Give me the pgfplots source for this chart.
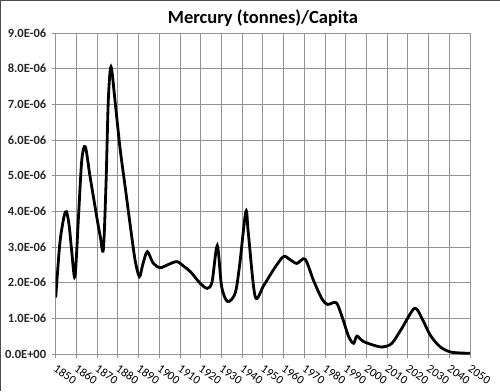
\documentclass[border=0pt]{standalone}
\usepackage{graphicx}
\usepackage{pgfplots}
\pgfplotsset{compat=1.18}
\usepackage{fontspec}
\setmainfont{Carlito}
\newcommand{\rl}[1]{\rotatebox[origin=tl]{-35}{#1}}
\begin{document}
\begin{tikzpicture}
\path[use as bounding box] (-55.7pt,-37pt) rectangle (444.3pt,354pt);
\draw[line width=1pt,black!70] (-55.2pt,-37pt) -- (-55.2pt,353.5pt) -- (444.3pt,353.5pt);
\begin{axis}[
  at={(0pt,0pt)}, anchor=south west,
  scale only axis, width=414.3pt, height=321pt,
  xmin=1850, xmax=2050, ymin=0, ymax=9,
  xtick={1850,1860,...,2050},
  xticklabels={\rl{1850},\rl{1860},\rl{1870},\rl{1880},\rl{1890},\rl{1900},\rl{1910},\rl{1920},\rl{1930},\rl{1940},\rl{1950},\rl{1960},\rl{1970},\rl{1980},\rl{1990},\rl{2000},\rl{2010},\rl{2020},\rl{2030},\rl{2040},\rl{2050}},
  ytick={0,1,...,9},
  yticklabels={0.0E+00,1.0E-06,2.0E-06,3.0E-06,4.0E-06,5.0E-06,6.0E-06,7.0E-06,8.0E-06,9.0E-06},
  grid=major,
  grid style={gray!85!white, line width=0.9pt},
  axis line style={gray!85!white, line width=0.9pt},
  tick style={gray!85!white, line width=0.9pt},
  tick align=outside, major tick length=4pt,
  xtick pos=bottom, ytick pos=left,
  y tick label style={font=\fontsize{12.5}{13}\selectfont\bfseries, color=black!85, xshift=-2pt},
  x tick label style={font=\fontsize{12}{13}\selectfont, anchor=north west, inner sep=0pt, xshift=-3pt, yshift=-6pt},
  title={Mercury (tonnes)/Capita},
  title style={font=\fontsize{18.5}{20}\selectfont\bfseries, yshift=-3pt},
]
\addplot[black, line width=2.8pt, smooth, tension=0.5] coordinates {
(1850,1.58) (1852,3.1) (1854,3.85) (1855.2,3.99) (1856.5,3.6) (1857.7,2.9) (1859.3,2.17)
(1861,3.85) (1862.6,5.44) (1864.3,5.81) (1866.6,4.97) (1869.8,3.85) (1871.5,3.3) (1873,2.93)
(1874.3,4.79) (1875.4,7.12) (1876.7,8.05) (1878.6,7.12) (1881,5.8) (1883.5,4.7) (1886,3.6)
(1888.3,2.64) (1890.4,2.17) (1892,2.5) (1894.2,2.87) (1897,2.55) (1900.4,2.42) (1904,2.5)
(1908.5,2.59) (1912,2.45) (1915,2.31) (1919.8,1.98) (1923.2,1.84) (1925.5,2.03) (1928,3.04)
(1930.1,1.89) (1933,1.47) (1936.6,1.70) (1938.7,2.45) (1941.8,3.99) (1943,3.38) (1946.3,1.61)
(1950.3,1.91) (1955.1,2.36) (1959.9,2.73) (1963,2.65) (1966.4,2.54) (1970.4,2.66) (1974.4,2.07)
(1978.4,1.56) (1981.2,1.39) (1985.4,1.44) (1988.2,1.05) (1991.4,0.49) (1993.8,0.30) (1995.4,0.50)
(1998.6,0.35) (2005,0.22) (2008.2,0.20) (2012.3,0.30) (2017.1,0.72) (2023.2,1.28) (2026.8,1.0)
(2030.8,0.53) (2035.6,0.2) (2040.4,0.06) (2045,0.03) (2050,0.02)
};
\end{axis}
\end{tikzpicture}
\end{document}
